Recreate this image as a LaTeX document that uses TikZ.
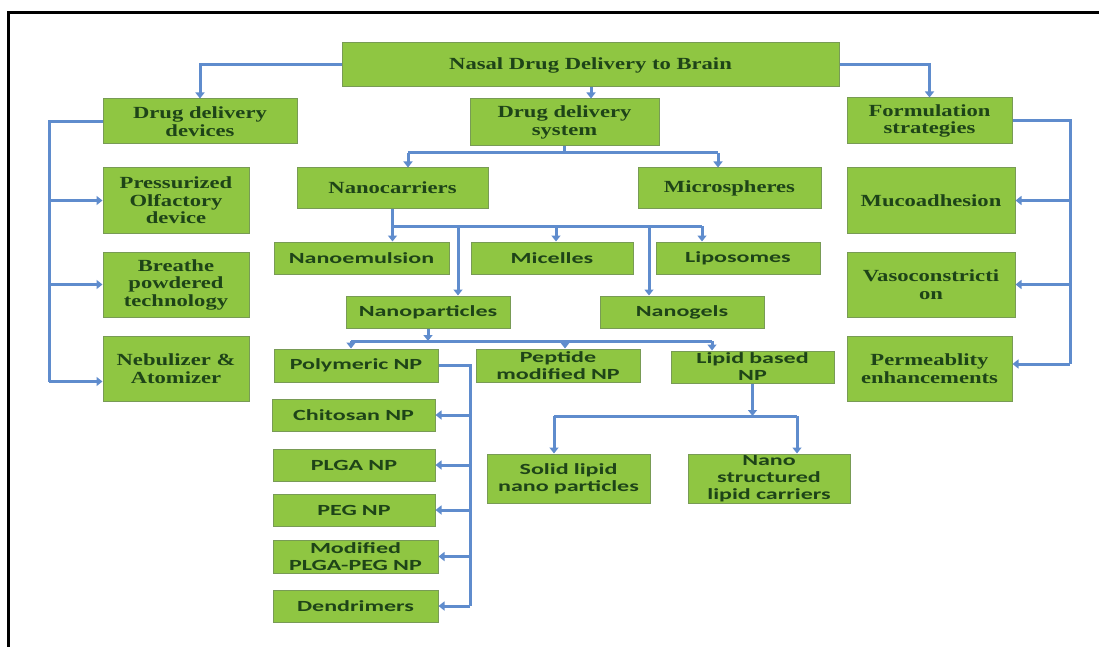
\documentclass[tikz,border=0pt]{standalone}
\usepackage{fontspec}
\setmainfont{Liberation Serif}
\newfontfamily\serfam{Liberation Serif}[FakeStretch=1.33]
\newfontfamily\sanfam{Carlito}[FakeStretch=1.55]
\usetikzlibrary{arrows.meta}
\definecolor{boxfill}{RGB}{143,198,66}
\definecolor{boxline}{RGB}{120,155,85}
\definecolor{txtgreen}{RGB}{30,68,24}
\definecolor{linkblue}{RGB}{95,140,205}
\newcommand{\fserif}{\serfam\bfseries\fontsize{17}{17.5}\selectfont}
\newcommand{\fsans}{\sanfam\bfseries\fontsize{15.5}{17}\selectfont}
\tikzset{
  box/.style={draw=boxline, line width=1pt, fill=boxfill, text=txtgreen, inner sep=0pt, align=center},
  conn/.style={draw=linkblue, line width=3pt},
  connar/.style={conn, -{Triangle[width=9pt,length=6pt]}},
}
\newcommand{\bx}[7]{%
  \pgfmathsetmacro{\bxw}{#4-#2}\pgfmathsetmacro{\bxh}{#5-#3}%
  \pgfmathsetmacro{\bxcx}{(#2+#4)/2}\pgfmathsetmacro{\bxcy}{(#3+#5)/2}%
  \node[box, minimum width=\bxw pt, minimum height=\bxh pt, text width=\bxw pt, font=#6] (#1) at (\bxcx,\bxcy) {#7};%
}
\begin{document}
\begin{tikzpicture}[x=1pt,y=-1pt]
\useasboundingbox (0,0) rectangle (1099,647);
\draw[line width=3pt] (1099,13) -- (8,13) -- (8,647);

\bx{title}{342}{43}{839}{87}{\fserif}{Nasal Drug Delivery to Brain}
\bx{dev}{103}{99}{297}{144}{\fserif}{Drug delivery\\devices}
\bx{sys}{470}{99}{659}{146}{\fserif}{Drug delivery\\system}
\bx{form}{847}{98}{1012}{144}{\fserif}{Formulation\\strategies}
\bx{press}{103}{168}{249}{233}{\fserif}{Pressurized\\Olfactory\\device}
\bx{breathe}{103}{252}{249}{317}{\fserif}{Breathe\\powdered\\technology}
\bx{neb}{103}{336}{249}{401}{\fserif}{Nebulizer \&\\Atomizer}
\bx{nanoc}{297}{168}{488}{208}{\fserif}{Nanocarriers}
\bx{micro}{638}{168}{821}{208}{\fserif}{Microspheres}
\bx{muco}{847}{168}{1015}{233}{\fserif}{Mucoadhesion}
\bx{vaso}{847}{252}{1015}{317}{\fserif}{Vasoconstricti\\on}
\bx{perm}{847}{336}{1012}{401}{\fserif}{Permeablity\\enhancements}

\bx{nemul}{274}{242}{449}{274}{\fsans}{Nanoemulsion}
\bx{mic}{471}{242}{633}{274}{\fsans}{Micelles}
\bx{lipo}{656}{242}{820}{274}{\fsans}{Liposomes}
\bx{npart}{346}{296}{510}{328}{\fsans}{Nanoparticles}
\bx{ngel}{600}{296}{764}{328}{\fsans}{Nanogels}
\bx{poly}{274}{349}{438}{382}{\fsans}{Polymeric NP}
\bx{pep}{476}{349}{640}{382}{\fsans}{Peptide\\modified NP}
\bx{lip}{671}{351}{834}{383}{\fsans}{Lipid based\\NP}
\bx{chi}{272}{399}{435}{431}{\fsans}{Chitosan NP}
\bx{plga}{273}{449}{435}{481}{\fsans}{PLGA NP}
\bx{peg}{273}{494}{435}{526}{\fsans}{PEG NP}
\bx{mod}{273}{540}{438}{573}{\fsans}{Modified\\PLGA-PEG NP}
\bx{den}{273}{590}{438}{622}{\fsans}{Dendrimers}
\bx{sln}{487}{454}{650}{503}{\fsans}{Solid lipid\\nano particles}
\bx{nlc}{688}{454}{850}{503}{\fsans}{Nano\\structured\\lipid carriers}

% top level
\draw[connar] (title.west) -| (dev.north);
\draw[connar] (title.east) -| (form.north);
\coordinate (c1) at (591,0);
\draw[connar] (title.south -| c1) -- (sys.north -| c1);

% drug delivery system
\coordinate (j0) at (0,153);
\coordinate (j1) at (408,153);
\coordinate (j2) at (718,153);
\draw[conn] (sys.south) -- (sys.south |- j0);
\draw[conn] (j1) -- (j2);
\draw[connar] (j1) -- (j1 |- nanoc.north);
\draw[connar] (j2) -- (j2 |- micro.north);

% devices
\coordinate (dl) at (49,0);
\coordinate (nebA) at ([yshift=-13pt]neb.west);
\draw[conn] (dev.west) -| (dl |- nebA);
\draw[connar] (dl |- press.west) -- (press.west);
\draw[connar] (dl |- breathe.west) -- (breathe.west);
\draw[connar] (dl |- nebA) -- (nebA);

% formulation
\coordinate (dr) at (1070,0);
\coordinate (permA) at ([yshift=4.5pt]perm.east);
\draw[conn] (form.east) -| (dr |- permA);
\draw[connar] (dr |- muco.east) -- (muco.east);
\draw[connar] (dr |- vaso.east) -- (vaso.east);
\draw[connar] (dr |- permA) -- (permA);

% nanocarriers
\coordinate (k0) at (0,226);
\coordinate (k2) at (458,226);
\coordinate (k3) at (556,226);
\coordinate (k4) at (649,226);
\coordinate (k5) at (702,226);
\draw[conn] (nanoc.south |- k0) -- (k5);
\draw[connar] (nanoc.south) -- (nanoc.south |- nemul.north);
\draw[connar] (k2) -- (k2 |- npart.north);
\draw[connar] (k3) -- (k3 |- mic.north);
\draw[connar] (k4) -- (k4 |- ngel.north);
\draw[connar] (k5) -- (k5 |- lipo.north);

% nanoparticles
\coordinate (m0) at (0,341);
\coordinate (m1) at (351,341);
\coordinate (m2) at (565,341);
\coordinate (m3) at (712,341);
\draw[connar] (npart.south) -- (npart.south |- m0);
\draw[conn] (m1) -- (m3);
\draw[connar] (m1) -- (m1 |- poly.north);
\draw[connar] (m2) -- (m2 |- pep.north);
\draw[connar] (m3) -- (m3 |- lip.north);

% polymeric
\coordinate (pr) at (470,0);
\draw[conn] (poly.east) -| (pr |- den.east);
\draw[connar] (pr |- chi.east) -- (chi.east);
\draw[connar] (pr |- plga.east) -- (plga.east);
\draw[connar] (pr |- peg.east) -- (peg.east);
\draw[connar] (pr |- mod.east) -- (mod.east);
\draw[connar] (pr |- den.east) -- (den.east);

% lipid based
\coordinate (n0) at (0,416);
\coordinate (n1) at (554,416);
\coordinate (n2) at (797,416);
\draw[connar] (lip.south) -- (lip.south |- n0);
\draw[conn] (n1) -- (n2);
\draw[connar] (n1) -- (n1 |- sln.north);
\draw[connar] (n2) -- (n2 |- nlc.north);
\end{tikzpicture}
\end{document}
